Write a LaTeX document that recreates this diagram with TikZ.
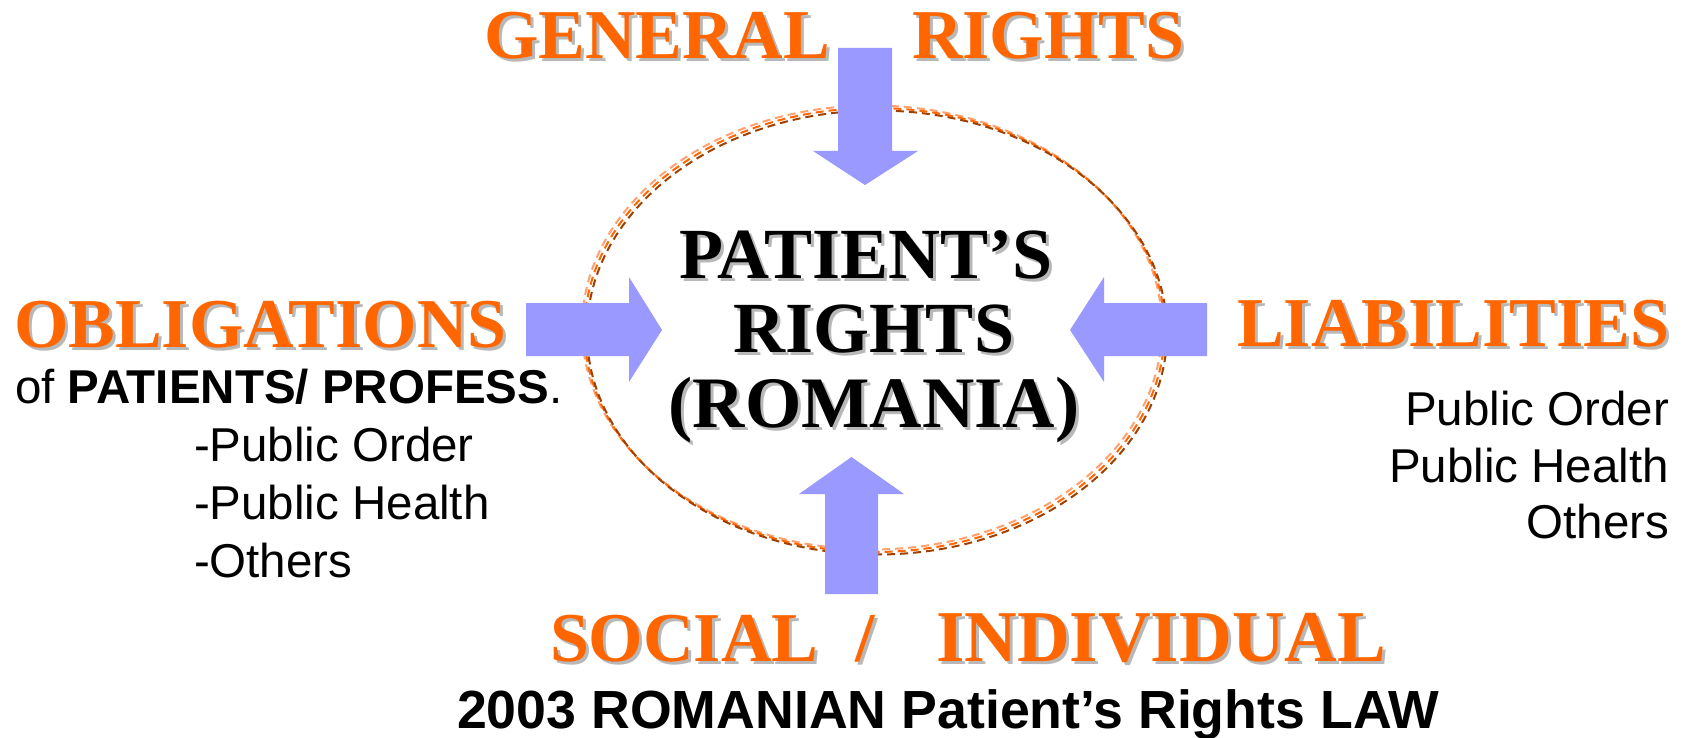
\documentclass[tikz,border=0pt]{standalone}
\usepackage{fontspec}
\newfontfamily\timesf{Liberation Serif}
\newfontfamily\arialf{Liberation Sans}
\definecolor{orangeT}{HTML}{FF6600}
\definecolor{shadowgray}{HTML}{B8B8B8}
\definecolor{arrowblue}{HTML}{9999FF}
\definecolor{elllight}{HTML}{FFA070}
\definecolor{ellmid}{HTML}{FF6600}
\definecolor{elldark}{HTML}{A04000}
\tikzset{
  heading/.style={font=\timesf\bfseries\fontsize{70}{70}\selectfont, text=orangeT, inner sep=0pt, outer sep=0pt},
  centertext/.style={font=\timesf\bfseries\fontsize{72}{72}\selectfont, text=black, inner sep=0pt, outer sep=0pt},
  bodytext/.style={font=\arialf\fontsize{47.5}{47.5}\selectfont, text=black, inner sep=0pt, outer sep=0pt},
  lawtext/.style={font=\arialf\bfseries\fontsize{53.7}{53.7}\selectfont, text=black, inner sep=0pt, outer sep=0pt},
  blockarrow/.style={fill=arrowblue, draw=none},
  ellstrand/.style={dash pattern=on 8pt off 5pt, line width=2pt}
}
\newcommand\shtext[6]{%
  \node[#1, text=shadowgray, anchor=#3, xshift=3pt, yshift=-3pt] at (#4,#5) {#6};
  \node[#1, anchor=#3] (#2) at (#4,#5) {#6};}
\begin{document}
\begin{tikzpicture}[x=1pt,y=-1pt]
\useasboundingbox (0,0) rectangle (1686,738);
% ellipse (three shifted dashed strands)
\coordinate (ec) at (874.5,330);
\draw[ellstrand, elllight] ([shift={(-2.5,-2.5)}]ec) ellipse [x radius=290pt, y radius=222pt];
\draw[ellstrand, ellmid] (ec) ellipse [x radius=290pt, y radius=222pt];
\draw[ellstrand, elldark] ([shift={(2.5,2.5)}]ec) ellipse [x radius=290pt, y radius=222pt];
% top arrow
\fill[blockarrow] (838,48) -- (892,48) -- (892,151) -- (918,151) -- (865,185) -- (813,151) -- (838,151) -- cycle;
% bottom arrow
\fill[blockarrow] (825,594) -- (878,594) -- (878,494) -- (904,494) -- (851.5,457) -- (799,494) -- (825,494) -- cycle;
% left arrow
\fill[blockarrow] (526,303) -- (629,303) -- (629,277) -- (662,330) -- (629,382) -- (629,356) -- (526,356) -- cycle;
% right arrow
\fill[blockarrow] (1207,303) -- (1104,303) -- (1104,277) -- (1070,330) -- (1104,382) -- (1104,356) -- (1207,356) -- cycle;
% headings
\shtext{heading}{general}{base west}{484}{59}{GENERAL}
\shtext{heading}{rights}{base west}{912}{59}{RIGHTS}
\shtext{heading}{oblig}{base west}{14}{347}{OBLIGATIONS}
\shtext{heading}{liab}{base east}{1669}{346}{LIABILITIES}
\shtext{heading}{social}{base west}{550}{661}{SOCIAL}
\shtext{heading}{slash}{base west}{855}{661}{/}
\shtext{heading, font=\timesf\bfseries\fontsize{73}{73}\selectfont}{indiv}{base west}{936}{661}{INDIVIDUAL}
% center
\shtext{centertext}{c1}{base}{866}{278}{PATIENT’S}
\shtext{centertext}{c2}{base}{874}{352}{RIGHTS}
\shtext{centertext, font=\timesf\bfseries\fontsize{72.5}{72.5}\selectfont}{c3}{base}{874}{427}{(ROMANIA)}
% left text
\node[bodytext, anchor=base west] (ofp) at (15,403) {of \textbf{PATIENTS/ PROFESS}.};
\node[bodytext, anchor=base west] (lpo) at (194,461) {-Public Order};
\node[bodytext, anchor=base west] (lph) at (194,519) {-Public Health};
\node[bodytext, anchor=base west] (lot) at (194,577) {-Others};
% right text
\node[bodytext, anchor=base east] (rpo) at (1669,425) {Public Order};
\node[bodytext, anchor=base east] (rph) at (1669,482) {Public Health};
\node[bodytext, anchor=base east] (rot) at (1669,538) {Others};
% law
\node[lawtext, anchor=base west] (law) at (457,728) {2003 ROMANIAN Patient’s Rights LAW};
\end{tikzpicture}
\end{document}
